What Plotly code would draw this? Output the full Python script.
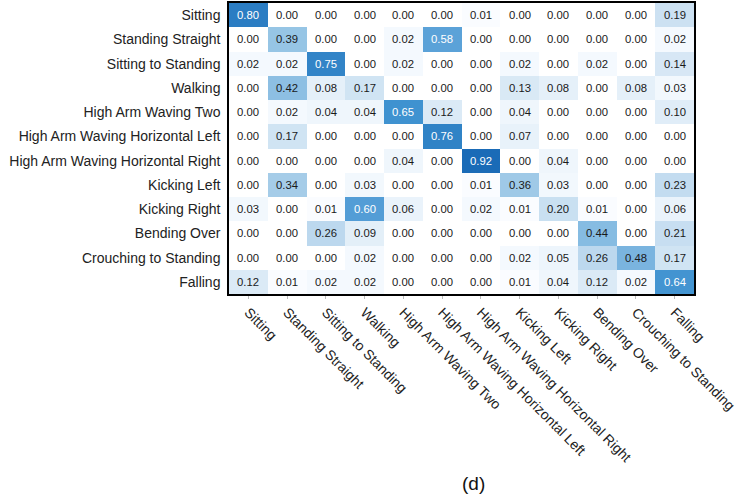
import plotly.graph_objects as go

classes = [
    "Sitting", "Standing Straight", "Sitting to Standing", "Walking",
    "High Arm Waving Two", "High Arm Waving Horizontal Left",
    "High Arm Waving Horizontal Right", "Kicking Left", "Kicking Right",
    "Bending Over", "Crouching to Standing", "Falling",
]

# Normalised confusion matrix, rows = true class, columns = predicted class
row_sitting = [0.80, 0.00, 0.00, 0.00, 0.00, 0.00, 0.01, 0.00, 0.00, 0.00, 0.00, 0.19]
row_standing = [0.00, 0.39, 0.00, 0.00, 0.02, 0.58, 0.00, 0.00, 0.00, 0.00, 0.00, 0.02]
row_sit_to_stand = [0.02, 0.02, 0.75, 0.00, 0.02, 0.00, 0.00, 0.02, 0.00, 0.02, 0.00, 0.14]
row_walking = [0.00, 0.42, 0.08, 0.17, 0.00, 0.00, 0.00, 0.13, 0.08, 0.00, 0.08, 0.03]
row_wave_two = [0.00, 0.02, 0.04, 0.04, 0.65, 0.12, 0.00, 0.04, 0.00, 0.00, 0.00, 0.10]
row_wave_left = [0.00, 0.17, 0.00, 0.00, 0.00, 0.76, 0.00, 0.07, 0.00, 0.00, 0.00, 0.00]
row_wave_right = [0.00, 0.00, 0.00, 0.00, 0.04, 0.00, 0.92, 0.00, 0.04, 0.00, 0.00, 0.00]
row_kick_left = [0.00, 0.34, 0.00, 0.03, 0.00, 0.00, 0.01, 0.36, 0.03, 0.00, 0.00, 0.23]
row_kick_right = [0.03, 0.00, 0.01, 0.60, 0.06, 0.00, 0.02, 0.01, 0.20, 0.01, 0.00, 0.06]
row_bending = [0.00, 0.00, 0.26, 0.09, 0.00, 0.00, 0.00, 0.00, 0.00, 0.44, 0.00, 0.21]
row_crouching = [0.00, 0.00, 0.00, 0.02, 0.00, 0.00, 0.00, 0.02, 0.05, 0.26, 0.48, 0.17]
row_falling = [0.12, 0.01, 0.02, 0.02, 0.00, 0.00, 0.00, 0.01, 0.04, 0.12, 0.02, 0.64]

matrix = [
    row_sitting, row_standing, row_sit_to_stand, row_walking,
    row_wave_two, row_wave_left, row_wave_right, row_kick_left,
    row_kick_right, row_bending, row_crouching, row_falling,
]

# Light-to-mid blue ramp (white at zero, saturated blue near one)
blue_ramp = [
    [0.00, "#ffffff"], [0.02, "#f4f9fe"], [0.12, "#dbeaf6"],
    [0.26, "#bcd8ee"], [0.39, "#96c5e5"], [0.58, "#5ba2d8"],
    [0.65, "#3f92d0"], [0.80, "#2b7dc3"], [0.92, "#1a6bb7"],
    [1.00, "#145fa9"],
]

fig = go.Figure(
    go.Heatmap(
        z=matrix,
        x=classes,
        y=classes,
        colorscale=blue_ramp,
        zmin=0.0,
        zmax=1.0,
        showscale=False,
    )
)

FONT = "Liberation Sans, Arial, sans-serif"

annotations = []
for i, row in enumerate(matrix):
    for j, v in enumerate(row):
        annotations.append(
            dict(
                x=classes[j], y=classes[i], xref="x", yref="y",
                text=f"{v:.2f}", showarrow=False,
                font=dict(family=FONT, size=11.3,
                          color="white" if v > 0.5 else "#1a1a1a"),
            )
        )

# panel caption below the axis labels
annotations.append(
    dict(
        x=(473 - 229) / 465, y=-(485 - 294) / 293, xref="paper", yref="paper",
        xanchor="center", yanchor="middle", text="(d)", showarrow=False,
        font=dict(family=FONT, size=19, color="#111"),
    )
)

fig.update_layout(
    width=749,
    height=504,
    margin=dict(l=229, r=55, t=1, b=210),
    paper_bgcolor="white",
    plot_bgcolor="white",
    font=dict(family=FONT, size=14, color="#222"),
    annotations=annotations,
    xaxis=dict(
        tickangle=45, showline=True, mirror=True, linecolor="black", linewidth=1.5,
        ticks="outside", ticklen=3, tickcolor="#bbb", showgrid=False, zeroline=False,
    ),
    yaxis=dict(
        autorange="reversed", showline=True, mirror=True, linecolor="black",
        linewidth=1.5, ticks="", showgrid=False, zeroline=False, ticklabelstandoff=4,
    ),
)

fig.write_html("out.html")
